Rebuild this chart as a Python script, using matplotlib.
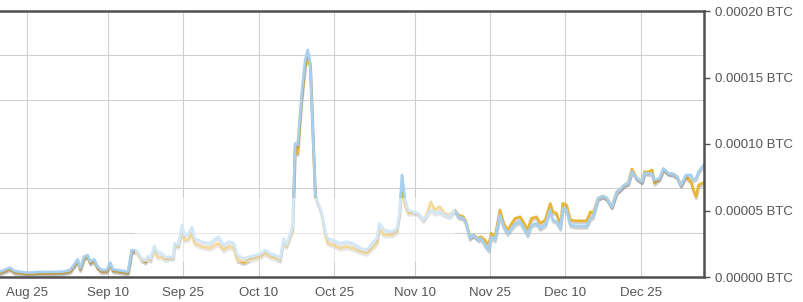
"""
Price history of a coin in BTC, two exchanges overlaid (gold / light blue)
"""

import numpy as np
import pandas as pd
import matplotlib
matplotlib.use('Agg')
import matplotlib.pyplot as plt
from matplotlib import patheffects as pe
from matplotlib.patches import Rectangle

plt.rcParams['font.family'] = ['Liberation Sans', 'DejaVu Sans']

# sample times
TIMES = [
    "2014-08-19 12:00", "2014-08-21 12:00", "2014-08-22 12:00", "2014-08-25 00:00",
    "2014-08-27 12:00", "2014-08-29 12:00", "2014-09-01 00:00", "2014-09-02 12:00",
    "2014-09-04 00:00", "2014-09-04 12:00", "2014-09-05 06:00", "2014-09-06 00:00",
    "2014-09-06 12:00", "2014-09-07 06:00", "2014-09-08 00:00", "2014-09-08 18:00",
    "2014-09-09 18:00", "2014-09-10 12:00", "2014-09-11 00:00", "2014-09-14 00:00",
    "2014-09-14 18:00", "2014-09-15 18:00", "2014-09-16 18:00", "2014-09-17 12:00",
    "2014-09-18 00:00", "2014-09-18 12:00", "2014-09-19 06:00", "2014-09-19 18:00",
    "2014-09-20 18:00", "2014-09-21 12:00", "2014-09-22 06:00", "2014-09-23 00:00",
    "2014-09-23 06:00", "2014-09-24 00:00", "2014-09-24 18:00", "2014-09-25 06:00",
    "2014-09-26 00:00", "2014-09-26 18:00", "2014-09-27 06:00", "2014-09-28 18:00",
    "2014-09-30 06:00", "2014-10-02 00:00", "2014-10-03 00:00", "2014-10-04 00:00",
    "2014-10-05 00:00", "2014-10-05 18:00", "2014-10-07 00:00", "2014-10-08 06:00",
    "2014-10-09 12:00", "2014-10-10 12:00", "2014-10-11 06:00", "2014-10-12 06:00",
    "2014-10-13 06:00", "2014-10-14 06:00", "2014-10-15 00:00", "2014-10-15 12:00",
    "2014-10-16 18:00", "2014-10-17 06:00", "2014-10-17 18:00", "2014-10-18 12:00",
    "2014-10-19 06:00", "2014-10-19 18:00", "2014-10-20 06:00", "2014-10-20 18:00",
    "2014-10-21 06:00", "2014-10-21 18:00", "2014-10-22 12:00", "2014-10-23 06:00",
    "2014-10-23 18:00", "2014-10-24 18:00", "2014-10-26 06:00", "2014-10-27 12:00",
    "2014-10-28 18:00", "2014-10-30 06:00", "2014-10-31 12:00", "2014-11-01 12:00",
    "2014-11-02 12:00", "2014-11-03 00:00", "2014-11-04 00:00", "2014-11-05 12:00",
    "2014-11-06 12:00", "2014-11-07 00:00", "2014-11-07 12:00", "2014-11-08 00:00",
    "2014-11-08 18:00", "2014-11-09 18:00", "2014-11-10 18:00", "2014-11-11 18:00",
    "2014-11-12 12:00", "2014-11-13 06:00", "2014-11-14 00:00", "2014-11-15 00:00",
    "2014-11-16 00:00", "2014-11-17 00:00", "2014-11-18 00:00", "2014-11-18 18:00",
    "2014-11-19 18:00", "2014-11-20 06:00", "2014-11-21 00:00", "2014-11-21 18:00",
    "2014-11-22 18:00", "2014-11-23 06:00", "2014-11-24 00:00", "2014-11-24 18:00",
    "2014-11-25 06:00", "2014-11-26 00:00", "2014-11-27 00:00", "2014-11-27 18:00",
    "2014-11-28 12:00", "2014-11-30 00:00", "2014-12-01 00:00", "2014-12-02 00:00",
    "2014-12-02 12:00", "2014-12-03 06:00", "2014-12-04 06:00", "2014-12-05 00:00",
    "2014-12-06 00:00", "2014-12-07 00:00", "2014-12-07 12:00", "2014-12-08 06:00",
    "2014-12-09 00:00", "2014-12-09 12:00", "2014-12-10 06:00", "2014-12-11 00:00",
    "2014-12-12 00:00", "2014-12-14 06:00", "2014-12-15 00:00", "2014-12-15 12:00",
    "2014-12-16 12:00", "2014-12-17 12:00", "2014-12-18 06:00", "2014-12-19 06:00",
    "2014-12-20 06:00", "2014-12-20 18:00", "2014-12-21 18:00", "2014-12-22 12:00",
    "2014-12-23 06:00", "2014-12-24 06:00", "2014-12-25 06:00", "2014-12-25 18:00",
    "2014-12-26 12:00", "2014-12-27 06:00", "2014-12-27 18:00", "2014-12-28 18:00",
    "2014-12-29 12:00", "2014-12-30 12:00", "2014-12-31 12:00", "2015-01-01 06:00",
    "2015-01-02 00:00", "2015-01-03 00:00", "2015-01-04 00:00", "2015-01-04 12:00",
    "2015-01-05 00:00", "2015-01-05 12:00", "2015-01-06 12:00",
]

# prices in satoshi (1e-8 BTC)
BLUE_SAT = [
    400, 700, 450, 320, 380, 380, 400, 530,
    1330, 680, 1530, 1650, 1150, 1330, 770, 530,
    530, 1080, 580, 400, 2030, 2000, 1410, 1280,
    1580, 1410, 2330, 1900, 1780, 1480, 1530, 1480,
    2530, 2410, 3910, 3160, 3310, 3780, 2910, 2650,
    2530, 3030, 2410, 2650, 2580, 1650, 1410, 1530,
    1650, 1780, 2030, 1780, 1650, 1410, 2910, 2410,
    3780, 10050, 9930, 13560, 16320, 17070, 16070, 11050,
    6170, 5660, 4910, 3410, 2910, 2780, 2530, 2650,
    2530, 2160, 2030, 2530, 2910, 4040, 3530, 3410,
    3660, 4790, 7670, 6040, 5040, 4910, 4790, 4290,
    4660, 5040, 4790, 4910, 4660, 4530, 5040, 4530,
    4410, 4040, 2910, 3160, 2780, 2910, 2410, 2030,
    3030, 2780, 4660, 3780, 3290, 3990, 4160, 3530,
    3160, 3910, 4040, 3660, 3910, 5040, 4290, 4160,
    3660, 5170, 5040, 3910, 3830, 3830, 4410, 4530,
    5920, 6090, 5920, 5290, 6410, 6540, 6920, 7050,
    7920, 7420, 7170, 7800, 7800, 7740, 7290, 7420,
    8170, 7800, 7740, 7540, 6920, 7670, 7670, 7290,
    7420, 7920, 8420,
]

GOLD_SAT = [
    290, 590, 340, 210, 260, 260, 290, 410,
    1220, 560, 1410, 1540, 1040, 1220, 660, 410,
    410, 960, 470, 290, 1950, 1880, 1280, 1130,
    1430, 1280, 2160, 1530, 1470, 1330, 1410, 1410,
    2410, 2280, 3410, 2780, 2830, 3290, 2530, 2280,
    2160, 2530, 2030, 2280, 2200, 1280, 1080, 1330,
    1410, 1580, 1780, 1530, 1410, 1280, 2780, 2280,
    3530, 9930, 9300, 13180, 15810, 16560, 15900, 10900,
    6050, 5550, 4790, 3160, 2530, 2410, 2160, 2280,
    2160, 1900, 1780, 2160, 2530, 3530, 3160, 3160,
    3410, 4660, 7050, 5540, 4790, 4830, 4790, 4290,
    4790, 5660, 5040, 5290, 4790, 4660, 5040, 4660,
    4530, 4160, 3030, 3160, 2910, 3030, 2780, 2410,
    3290, 3030, 5040, 4040, 3530, 4410, 4530, 3910,
    3530, 4410, 4530, 4040, 4290, 5540, 4910, 4790,
    3910, 5540, 5410, 4290, 4230, 4230, 4910, 4790,
    5920, 6090, 5920, 5290, 6410, 6540, 6920, 7050,
    8120, 7420, 7170, 7920, 7900, 8050, 7050, 7420,
    8100, 7800, 7740, 7540, 6920, 7540, 7170, 6540,
    6040, 6920, 7090,
]

DATE_TICKS = ["2014-08-25", "2014-09-10", "2014-09-25", "2014-10-10", "2014-10-25",
              "2014-11-10", "2014-11-25", "2014-12-10", "2014-12-25"]
DATE_LABELS = ["Aug 25", "Sep 10", "Sep 25", "Oct 10", "Oct 25",
               "Nov 10", "Nov 25", "Dec 10", "Dec 25"]
PRICE_TICKS = [0.0, 0.00005, 0.00010, 0.00015, 0.00020]

GOLD = "#e8b535"
BLUE = "#a6cff0"
FRAME = "#505050"
TEXT = "#555555"


def plot_price(times, gold, blue) -> None:
    fig = plt.figure(figsize=(8.04, 3.02), dpi=100)
    ax = fig.add_axes([0, 25 / 302, 704 / 804, 266 / 302])

    shadow = [pe.SimpleLineShadow(offset=(0.3, -1.6), shadow_color='#666666', alpha=0.3),
              pe.Normal()]
    ax.plot(times, gold, color=GOLD, linewidth=1.9, zorder=3,
            solid_joinstyle='round', path_effects=shadow)
    ax.plot(times, blue, color=BLUE, linewidth=1.9, zorder=3,
            solid_joinstyle='round', path_effects=shadow)

    # faded watermark area in the middle of the chart
    ax.add_patch(Rectangle((0.192, 0.056), 0.454, 0.24, transform=ax.transAxes,
                           facecolor='white', edgecolor='none', alpha=0.5, zorder=4))

    ax.set_xlim(pd.Timestamp("2014-08-19 13:00"), pd.Timestamp("2015-01-06 14:00"))
    ax.set_ylim(0, 0.0002)

    ax.set_xticks(pd.to_datetime(DATE_TICKS))
    ax.set_xticklabels(DATE_LABELS)
    ax.tick_params(axis='x', length=0, pad=7, labelsize=9.5, labelcolor=TEXT)

    ax.yaxis.tick_right()
    ax.set_yticks(PRICE_TICKS)
    ax.set_yticklabels([f"{v:.5f} BTC" for v in PRICE_TICKS])
    ax.set_yticks(np.linspace(0, 0.0002, 7), minor=True)
    ax.tick_params(axis='y', which='major', length=4, width=1, color=FRAME,
                   pad=4, labelsize=9.5, labelcolor=TEXT)
    ax.tick_params(axis='y', which='minor', length=0)

    ax.grid(axis='x', which='major', color='#d0d0d0', linewidth=0.8, zorder=0)
    ax.grid(axis='y', which='minor', color='#d0d0d0', linewidth=0.8, zorder=0)
    ax.set_axisbelow(True)

    ax.spines['left'].set_visible(False)
    for side in ('top', 'right', 'bottom'):
        ax.spines[side].set_color(FRAME)
        ax.spines[side].set_linewidth(1.8)
        ax.spines[side].set_zorder(5)

    fig.savefig("out.png", dpi=100)
    plt.close(fig)


def main() -> None:
    times = pd.to_datetime(TIMES)
    gold = np.array(GOLD_SAT) / 1e8
    blue = np.array(BLUE_SAT) / 1e8
    plot_price(times, gold, blue)


if __name__ == "__main__":
    main()
